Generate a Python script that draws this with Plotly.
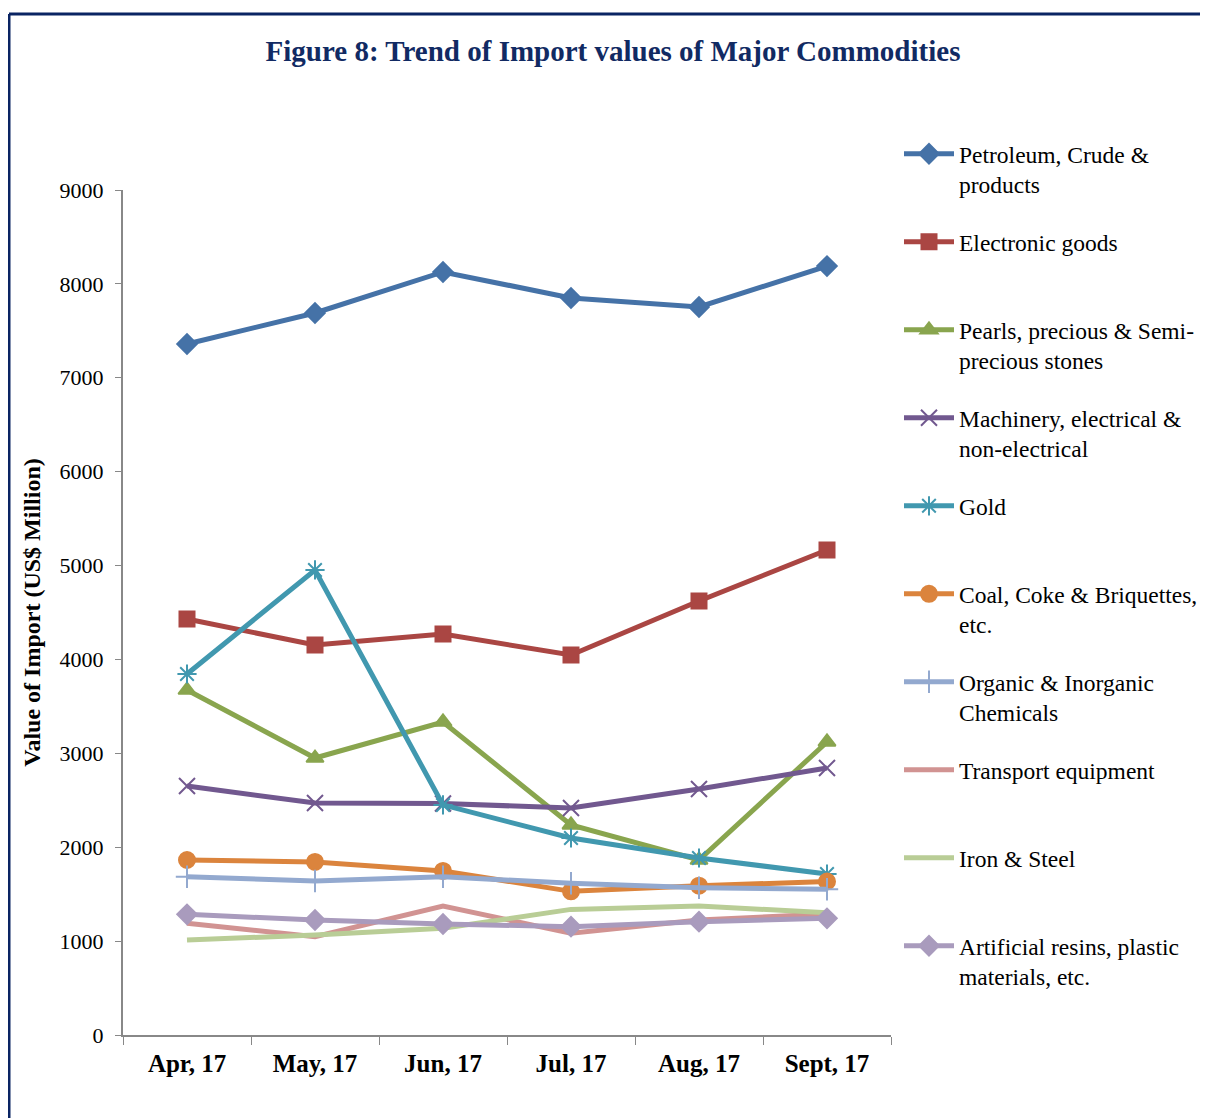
import plotly.graph_objects as go

months = ["Apr, 17", "May, 17", "Jun, 17", "Jul, 17", "Aug, 17", "Sept, 17"]

petroleum = [7360, 7690, 8127, 7850, 7754, 8190]
electronic = [4431, 4154, 4271, 4047, 4622, 5166]
pearls = [3674, 2950, 3334, 2237, 1864, 3121]
machinery = [2652, 2471, 2465, 2418, 2620, 2844]
gold = [3845, 4953, 2450, 2098, 1885, 1715]
coal = [1864, 1843, 1747, 1530, 1590, 1635]
organic = [1686, 1640, 1686, 1616, 1569, 1552]
transport = [1190, 1047, 1374, 1083, 1225, 1290]
iron = [1012, 1065, 1136, 1338, 1374, 1303]
resins = [1285, 1225, 1182, 1154, 1207, 1243]

names = [
    "Petroleum, Crude &<br>products",
    "Electronic goods",
    "Pearls, precious & Semi-<br>precious stones",
    "Machinery, electrical &<br>non-electrical",
    "Gold",
    "Coal, Coke & Briquettes,<br>etc.",
    "Organic & Inorganic<br>Chemicals",
    "Transport equipment",
    "Iron & Steel",
    "Artificial resins, plastic<br>materials, etc.",
]
series = [petroleum, electronic, pearls, machinery, gold, coal, organic, transport, iron, resins]
colors = ["#4572A7", "#AA4643", "#89A54E", "#71588F", "#4198AF",
          "#DB843D", "#93A9CF", "#D19392", "#B9CD96", "#A99BBD"]
symbols = ["diamond", "square", "triangle-up", "x-thin-open", "asterisk-open",
           "circle", "cross-thin-open", None, None, "diamond"]
sizes = [15, 15, 15, 16, 16, 16, 16, 0, 0, 15]

LEG_FONT = 23.5
fig = go.Figure()
for i, (name, vals, col, sym, sz) in enumerate(zip(names, series, colors, symbols, sizes)):
    label = name if "<br>" in name else name + "<br>&nbsp;"
    mode = "lines+markers" if sym else "lines"
    marker = dict(color=col, size=sz, symbol=sym if sym else "circle",
                  line=dict(color=col, width=2))
    fig.add_trace(go.Scatter(x=months, y=vals, name=label, mode=mode, legendgroup=str(i),
                             line=dict(color=col, width=5), marker=marker))

OFF = 8  # page body margin
W, H = 1208 - OFF, 1118 - OFF
L, R, T, B = 123, 891, 190, 1035  # reference pixel coords of plot area

def px_x(p):
    return (p - L) / (R - L)

def px_y(p):
    return (B - p) / (B - T)

item_h = 2 * LEG_FONT * 1.3 + 3
gap = max(0, 88 - item_h)

fig.update_layout(
    width=W, height=H,
    margin=dict(l=L - OFF, r=W - (R - OFF), t=T - OFF, b=H - (B - OFF), pad=0,
                autoexpand=False),
    paper_bgcolor="white", plot_bgcolor="white",
    font=dict(family="Liberation Serif", color="black"),
    title=dict(text="<b>Figure 8: Trend of Import values of Major Commodities</b>",
               x=(613 - OFF) / W, xanchor="center", y=1 - (51 - OFF) / H, yanchor="middle",
               font=dict(family="Liberation Serif", size=29, color="#112A63")),
    showlegend=True,
    legend=dict(x=px_x(899), xanchor="left", y=px_y(132), yanchor="top",
                font=dict(family="Liberation Serif", size=LEG_FONT, color="black"),
                itemwidth=50, bgcolor="rgba(0,0,0,0)", tracegroupgap=gap,
                valign="top", maxheight=1000),
    shapes=[
        dict(type="line", xref="paper", yref="paper",
             x0=px_x(9), x1=px_x(1300), y0=px_y(14), y1=px_y(14),
             line=dict(color="#0A2463", width=3)),
        dict(type="line", xref="paper", yref="paper",
             x0=px_x(9), x1=px_x(9), y0=px_y(14), y1=px_y(1200),
             line=dict(color="#0A2463", width=3)),
    ],
)

fig.update_xaxes(
    type="category", showgrid=False, showline=True, linecolor="#888888", linewidth=2,
    ticks="outside", tickson="boundaries", ticklen=8, tickcolor="#888888", tickwidth=1,
    tickfont=dict(family="Liberation Serif", size=25, color="black"),
    tickprefix="<b>", ticksuffix="</b>", range=[-0.5, 5.5], ticklabelstandoff=5,
)
fig.update_yaxes(
    range=[0, 9000], dtick=1000, showgrid=False, showline=True, linecolor="#888888",
    linewidth=2, ticks="outside", ticklen=6, tickcolor="#888888", tickwidth=1,
    tickfont=dict(family="Liberation Serif", size=22, color="black"),
    zeroline=False, ticklabelstandoff=7,
    title=dict(text="<b>Value of Import (US$ Million)</b>", standoff=12,
               font=dict(family="Liberation Serif", size=24, color="black")),
)

fig.write_html("out.html")
